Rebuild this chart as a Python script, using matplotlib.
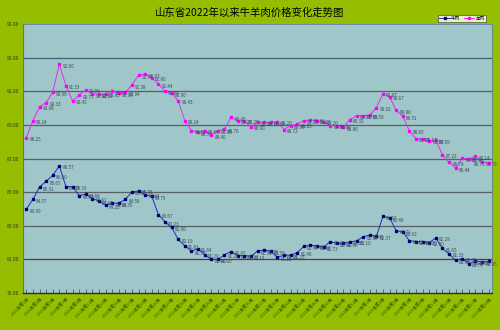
import matplotlib
matplotlib.use("Agg")
import matplotlib.pyplot as plt

plt.rcParams["font.family"] = ["Noto Sans CJK SC", "DejaVu Sans"]

# weekly prices, 2022 week 1 onward (yuan/kg)
weeks = [f"2022年第{i}周" for i in range(1, 53)] + [f"2023年第{i}周" for i in range(1, 20)]

beef = [83.99, 84.57, 85.31, 85.65, 86.00, 86.57, 85.33, 85.33, 84.80, 84.88,
        84.62, 84.48, 84.22, 84.35, 84.35, 84.58, 85.02, 85.08, 84.84, 84.75,
        83.67, 83.23, 82.90, 82.19, 81.81, 81.50, 81.64, 81.29, 81.00, 81.00,
        81.28, 81.47, 81.23, 81.23, 81.18, 81.50, 81.56, 81.50, 81.12, 81.25,
        81.25, 81.40, 81.77, 81.85, 81.80, 81.73, 82.05, 81.96, 81.96, 82.05,
        82.10, 82.35, 82.45, 82.37, 83.57, 83.46, 82.72, 82.62, 82.12, 82.05,
        82.05, 82.00, 82.28, 81.65, 81.33, 80.94, 81.05, 80.74, 80.90, 80.85, 80.88]

mutton = [88.25, 89.24, 90.08, 90.33, 90.96, 92.60, 91.33, 90.43, 90.77, 91.09,
          90.82, 90.82, 90.85, 91.02, 90.90, 90.94, 91.38, 91.97, 92.03, 91.80,
          91.44, 91.00, 90.90, 90.43, 89.24, 88.66, 88.57, 88.66, 88.40, 88.66,
          88.76, 89.45, 89.25, 89.25, 88.90, 89.16, 89.16, 89.16, 89.20, 88.72,
          88.96, 89.05, 89.25, 89.31, 89.25, 89.20, 88.96, 88.96, 88.86, 89.32,
          89.55, 89.55, 89.59, 90.02, 90.87, 90.67, 89.88, 89.51, 88.65, 88.17,
          88.17, 88.07, 88.09, 87.22, 86.78, 86.44, 87.03, 86.98, 87.14, 86.79, 86.75]

y_ticks = [79, 81, 83, 85, 87, 89, 91, 93, 95]

fig = plt.figure(figsize=(5, 3.3), dpi=100, facecolor="#96be00")
ax = fig.add_axes([0.046, 0.112, 0.938, 0.815])
ax.set_facecolor("#9fc6c9")

x = list(range(len(weeks)))

# grid lines (81 is dark red, 93 bluish in the original)
grid_colors = {81: "#7a2a2a", 93: "#44607f"}
for v in y_ticks[1:-1]:
    ax.axhline(v, color=grid_colors.get(v, "#5a5e66"), linewidth=0.9, zorder=1)

ax.plot(x, beef, color="#1c2cc0", linewidth=0.7, marker="s", markersize=1.6,
        markerfacecolor="#000070", markeredgecolor="#000070", label="牛肉", zorder=3)
ax.plot(x, mutton, color="#e030e8", linewidth=0.7, marker="s", markersize=2.0,
        markerfacecolor="#ff00ff", markeredgecolor="#ff00ff", label="羊肉", zorder=3)

last = len(x) - 1
for xi, b, m in zip(x, beef, mutton):
    for v in (b, m):
        # last point: label goes left so it stays inside the plot
        dx, ha = (-2.3, "right") if xi == last else (2.3, "left")
        ax.annotate(f"{v:.2f}", (xi, v), xytext=(dx, -1.5), textcoords="offset points",
                    fontsize=3.3, color="#3c4660", va="center", ha=ha, zorder=4)

ax.set_xlim(-0.5, len(weeks) - 0.5)
ax.set_ylim(79, 95)
ax.set_yticks(y_ticks)
ax.set_yticklabels([f"{v:.2f}" for v in y_ticks], fontsize=3.6, color="#333333")
ax.tick_params(axis="y", length=0, pad=3)

ax.set_xticks(x)
ax.set_xticklabels([w if i % 2 == 0 else "" for i, w in enumerate(weeks)],
                   rotation=45, ha="right", rotation_mode="anchor",
                   fontsize=3.0, color="#2f5a00")
ax.tick_params(axis="x", direction="in", length=3, width=0.6, color="#555566", pad=2)

for side in ["top", "right"]:
    ax.spines[side].set_color("#6080a0")
    ax.spines[side].set_linewidth(0.6)
ax.spines["left"].set_color("#707070")
ax.spines["bottom"].set_color("#303020")
ax.spines["bottom"].set_linewidth(1.0)

fig.text(0.5, 0.962, "山东省2022年以来牛羊肉价格变化走势图", ha="center", va="center",
         fontsize=7.5, color="black")

leg = fig.legend(loc="center", bbox_to_anchor=(0.924, 0.944), ncol=2, fontsize=3.3,
                 frameon=True, fancybox=False, edgecolor="#333333", handlelength=2.2,
                 borderpad=0.3, columnspacing=0.8, handletextpad=0.3)
leg.get_frame().set_linewidth(0.5)
leg.get_frame().set_facecolor("white")

fig.savefig("out.png", dpi=100, facecolor=fig.get_facecolor())
